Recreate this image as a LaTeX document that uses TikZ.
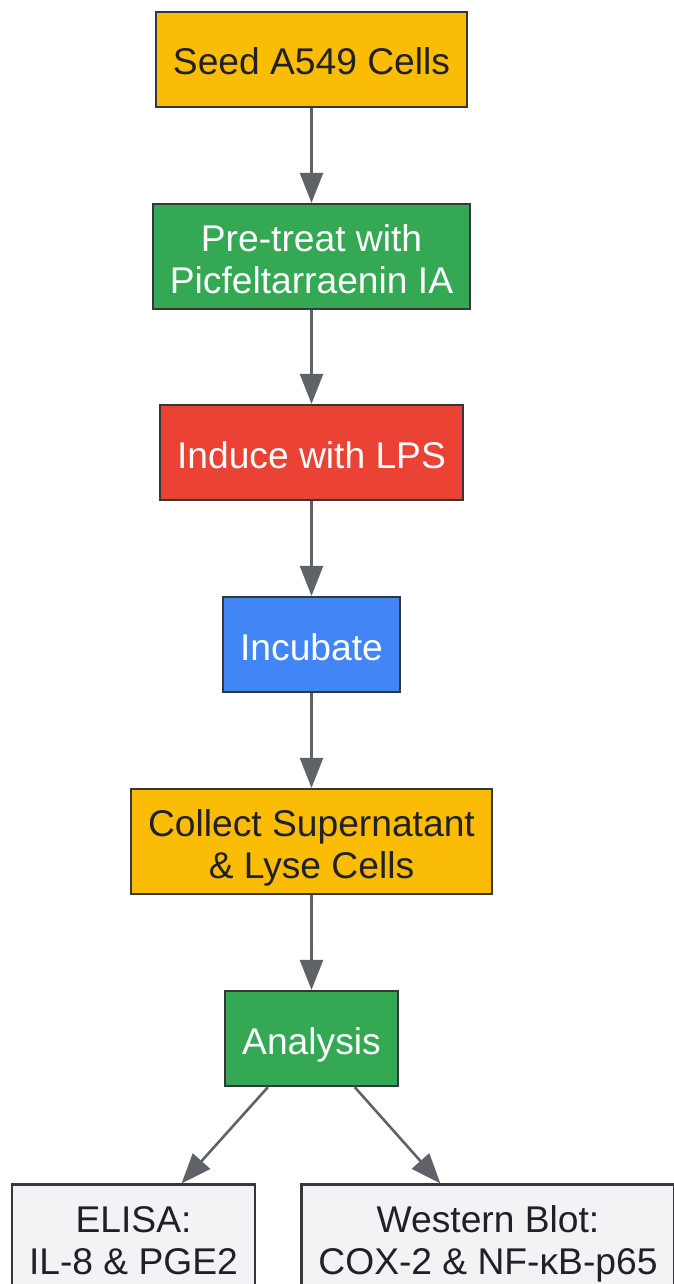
\documentclass[tikz,border=0pt]{standalone}
\usepackage{fontspec}
\setmainfont{Liberation Sans}
\usetikzlibrary{arrows.meta}

\definecolor{gyellow}{HTML}{FBBC05}
\definecolor{ggreen}{HTML}{34A853}
\definecolor{gred}{HTML}{EA4335}
\definecolor{gblue}{HTML}{4285F4}
\definecolor{ggrey}{HTML}{F1F3F4}
\definecolor{edgegrey}{HTML}{5F6368}
\definecolor{inkdark}{HTML}{202124}

\newcommand\midx{311.5pt}
\newcommand\onebox{95pt}
\newcommand\twobox{105pt}

\tikzset{
  stepbox/.style={draw=inkdark!90, line width=2.2pt, inner xsep=17pt, inner ysep=4pt,
    align=center, font=\fontsize{37.2}{42}\selectfont},
  oneline/.style={minimum height=\onebox, text height=31pt, text depth=0pt},
  twoline/.style={minimum height=\twobox, text height=74pt, text depth=0pt},
  darktext/.style={stepbox, text=inkdark},
  lighttext/.style={stepbox, text=white},
  flow/.style={draw=edgegrey, line width=2.6pt, -{Triangle[length=30pt,width=23pt]}},
}

\begin{document}
\begin{tikzpicture}
  \useasboundingbox (0,0) rectangle (673pt,-1284pt);

  \node[darktext,oneline,fill=gyellow] (seed) at (\midx,-59.5pt) {Seed A549 Cells};
  \node[lighttext,twoline,fill=ggreen] (pretreat) at (\midx,-256.5pt) {Pre-treat with\\ Picfeltarraenin IA};
  \node[lighttext,oneline,fill=gred] (induce) at (\midx,-452.5pt) {Induce with LPS};
  \node[lighttext,oneline,fill=gblue] (incubate) at (\midx,-644.5pt) {Incubate};
  \node[darktext,twoline,fill=gyellow] (collect) at (\midx,-841.5pt) {Collect Supernatant\\ \&~Lyse Cells};
  \node[lighttext,oneline,fill=ggreen] (analysis) at (\midx,-1038.5pt) {Analysis};

  \node[darktext,twoline,fill=ggrey] (elisa) at (133.5pt,-1237pt) {ELISA:\\ IL-8 \& PGE2};
  \node[darktext,twoline,fill=ggrey] (western) at (488pt,-1237pt) {Western Blot:\\ COX-2 \& NF-κB-p65};

  \draw[flow] (seed) -- (pretreat);
  \draw[flow] (pretreat) -- (induce);
  \draw[flow] (induce) -- (incubate);
  \draw[flow] (incubate) -- (collect);
  \draw[flow] (collect) -- (analysis);
  \draw[flow] (analysis) -- (elisa);
  \draw[flow] (analysis) -- (western);
\end{tikzpicture}
\end{document}
